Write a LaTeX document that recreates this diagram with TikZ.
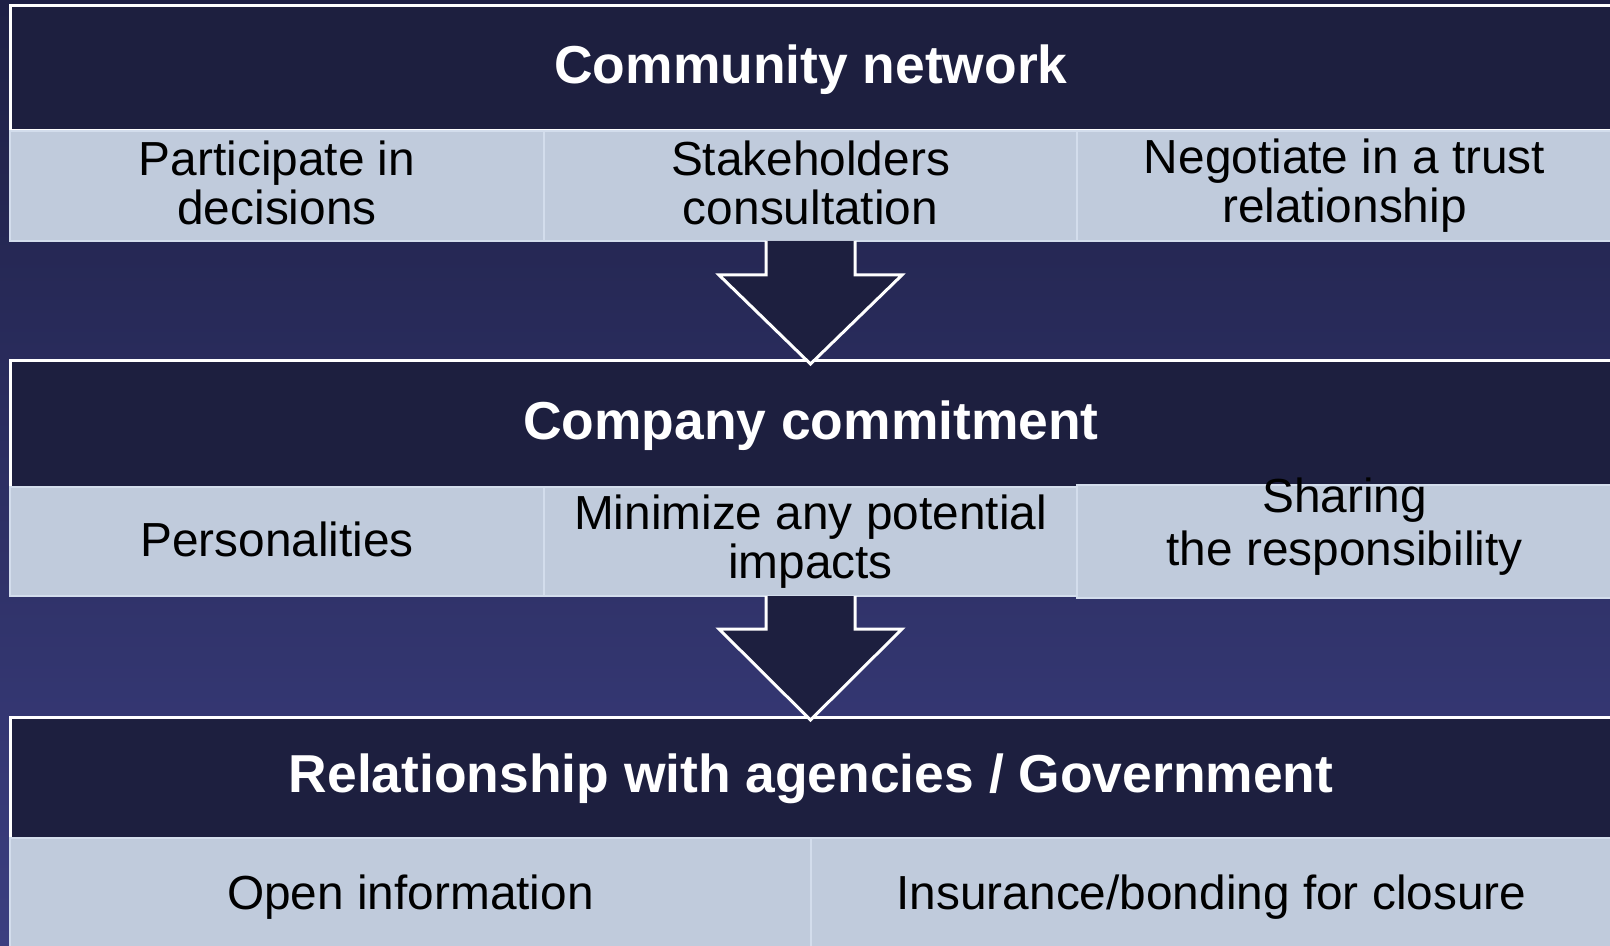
\documentclass[tikz,border=0pt]{standalone}
\usepackage{fontspec}
\setmainfont{Liberation Sans}
\usetikzlibrary{positioning}

\definecolor{bgtop}{HTML}{1E2045}
\definecolor{bgbottom}{HTML}{3B3E80}
\definecolor{headnavy}{HTML}{1D1F3F}
\definecolor{cellblue}{HTML}{C0CBDC}
\definecolor{celledge}{HTML}{D3DDEC}

\newcommand\cellstrut{\rule[-3pt]{0pt}{20.5pt}}

\tikzset{
  headbox/.style={draw=white, line width=1.5pt, fill=headnavy, text=white,
    anchor=north west, inner sep=0pt, outer sep=0pt, minimum width=801pt,
    text height=19.5pt, text depth=4.5pt,
    font=\bfseries\fontsize{26.7}{30}\selectfont},
  celltext/.style={inner sep=0pt, align=center,
    execute at begin node=\cellstrut, execute at end node=\cellstrut,
    font=\fontsize{23.9}{24.5}\selectfont},
  cellbox/.style={celltext, draw=celledge, line width=0.75pt, fill=cellblue,
    anchor=north west, outer sep=0pt},
  downarrow/.style={draw=white, line width=1.5pt, fill=headnavy, line join=miter}
}

\begin{document}
\begin{tikzpicture}[x=0.5pt,y=-0.5pt]
  \clip (0,0) rectangle (1610,946);
  %background
  \shade[top color=bgtop, bottom color=bgbottom] (0,0) rectangle (1610,946);

  %community network
  \node[headbox, minimum height=62.5pt] (h1) at (10,6) {Community network};
  \node[cellbox, minimum width=267pt, minimum height=55pt] (c11) at (h1.south west) {Participate in\\decisions};
  \node[cellbox, minimum width=266.5pt, minimum height=55pt] (c12) at (c11.north east) {Stakeholders\\consultation};
  \node[cellbox, minimum width=267.5pt, minimum height=55pt] (c13) at (c12.north east) {Negotiate in a trust\\relationship};

  %company commitment
  \node[headbox, minimum height=63pt] (h2) at (10,361) {Company commitment};
  \node[cellbox, minimum width=267pt, minimum height=54.5pt] (c21) at (h2.south west) {Personalities};
  \node[cellbox, minimum width=266.5pt, minimum height=54.5pt] (c22) at (c21.north east) {Minimize any potential\\impacts};
  \node[cellbox, minimum width=267.5pt, minimum height=56.5pt] (c23) at ([yshift=1pt]c22.north east) {};
  \node[celltext] (t23) at ([yshift=7.25pt]c23.center) {Sharing\\[2pt]the responsibility};

  %agencies / government
  \node[headbox, minimum height=60.5pt] (h3) at (10,717) {Relationship with agencies / Government};
  \node[cellbox, minimum width=400.5pt, minimum height=58.5pt] (c31) at (h3.south west) {Open information};
  \node[cellbox, minimum width=400.5pt, minimum height=58.5pt] (c32) at (c31.north east) {Insurance/bonding for closure};

  %block arrows
  \filldraw[downarrow] (c12.south) ++(-44.5,0) -- ++(0,34) -- ++(-47,0) -- ++(91.5,89)
    -- ++(91.5,-89) -- ++(-47,0) -- ++(0,-34);
  \filldraw[downarrow] (c22.south) ++(-44.5,0) -- ++(0,33) -- ++(-47,0) -- ++(91.5,91)
    -- ++(91.5,-91) -- ++(-47,0) -- ++(0,-33);
\end{tikzpicture}
\end{document}
